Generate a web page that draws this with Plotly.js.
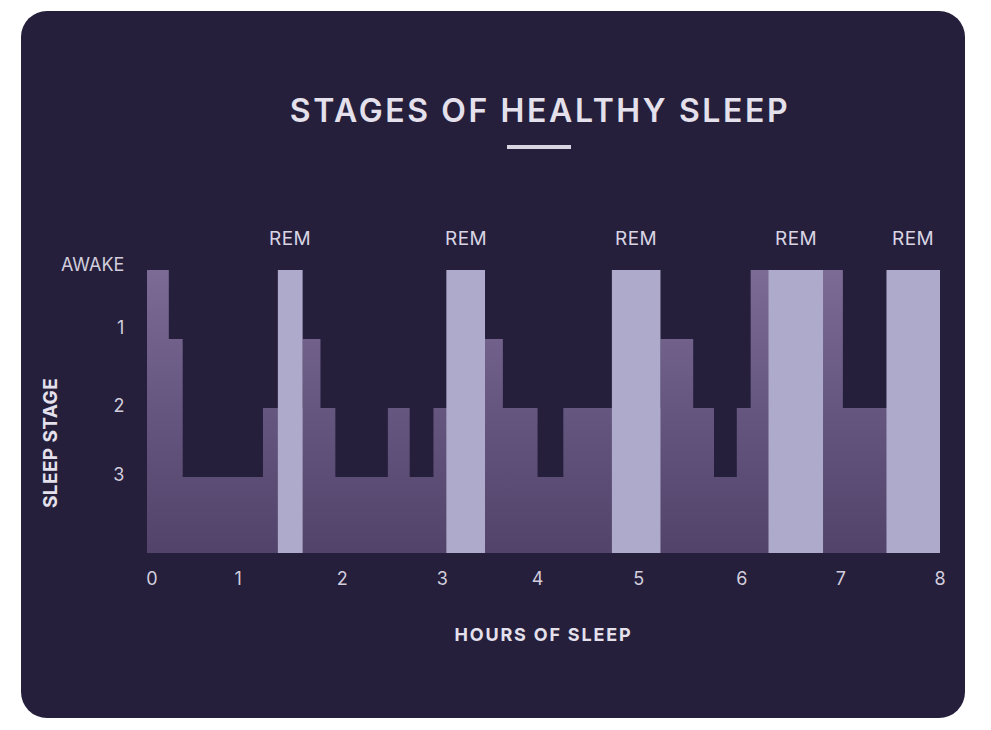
<!DOCTYPE html>
<html>
<head>
<meta charset="utf-8">
<script src="https://cdn.plot.ly/plotly-3.0.1.min.js"></script>
<style>
  html, body { margin: 0; padding: 0; background: #ffffff; }
  #wrap { position: relative; width: 991px; height: 730px; }
  #card { position: absolute; left: 21px; top: 11px; width: 944px; height: 707px;
          border-radius: 26px; background: #251f3c; }
  #chart { position: absolute; left: 0; top: 0; width: 991px; height: 730px; }
  .gtitle { letter-spacing: 2.6px; }
  .xtitle { letter-spacing: 1.8px; }
  .annotation-text { letter-spacing: 0.4px; }
</style>
</head>
<body>
<div id="wrap">
  <div id="card"></div>
  <div id="chart"></div>
</div>
<script>
// ---- data ----
// numeric level of each stage on the vertical axis (AWAKE at top)
const stageNames = ["AWAKE", "1", "2", "3"];
const stageLevels = [4, 3, 2, 1];

// non-REM hypnogram: hour at which each stage begins
const hypnoStart = [0, 0.22, 0.36, 1.17, 1.57, 1.75, 1.90, 2.43, 2.65, 2.89,
                    3.41, 3.59, 3.94, 4.20, 5.18, 5.51, 5.72, 5.95, 6.09, 7.02];
const hypnoStage = ["AWAKE", "1", "3", "2", "1", "2", "3", "2", "3", "2",
                    "1", "2", "3", "2", "1", "2", "3", "2", "AWAKE", "2"];
const sleepEnd = 8;

// REM periods (hours)
const remStart = [1.32, 3.02, 4.69, 6.27, 7.46];
const remEnd   = [1.57, 3.41, 5.18, 6.82, 8.0];
const remLabel = ["REM", "REM", "REM", "REM", "REM"];

// tick labels and where they sit
const xTickText = ["0", "1", "2", "3", "4", "5", "6", "7", "8"];
const xTickPos  = [0.05, 0.92, 1.97, 2.98, 3.94, 4.96, 6.0, 7.0, 8.0];
const yTickText = ["AWAKE", "1", "2", "3"];
const yTickPos  = [4.07, 3.17, 2.04, 1.03];

const yRange = [-0.1, 4.1];
const xRange = [0, 8];

// ---- build traces ----
const lvl = s => stageLevels[stageNames.indexOf(s)];
const baseLvl = yRange[0];
const areaX = [hypnoStart[0]].concat(hypnoStart, [sleepEnd, sleepEnd]);
const areaY = [baseLvl].concat(hypnoStage.map(lvl),
                [lvl(hypnoStage[hypnoStage.length - 1]), baseLvl]);

const area = {
  type: "scatter",
  x: areaX, y: areaY,
  mode: "lines",
  line: { shape: "hv", width: 0, color: "rgba(0,0,0,0)" },
  fill: "toself",
  fillcolor: "#6a5a84",
  fillgradient: {
    type: "vertical",
    start: baseLvl, stop: 4,
    colorscale: [[0, "#52436a"], [0.5, "#655680"], [1, "#7c6b94"]]
  },
  hoverinfo: "skip"
};

// REM periods as filled rectangles drawn above the hypnogram
const remTop = lvl("AWAKE");
const remX = [], remY = [];
remStart.forEach((s, i) => {
  remX.push(s, s, remEnd[i], remEnd[i], s, null);
  remY.push(baseLvl, remTop, remTop, baseLvl, baseLvl, null);
});
const rem = {
  type: "scatter",
  x: remX, y: remY,
  mode: "lines",
  line: { width: 0, color: "rgba(0,0,0,0)" },
  fill: "toself",
  fillcolor: "#aeaacb",
  connectgaps: false,
  hoverinfo: "skip"
};

const remCenter = remStart.map((s, i) => (s + remEnd[i]) / 2);

const textCol = "#e4e1ec";
const tickCol = "#d2cedc";
const font = "Inter, 'Noto Sans', sans-serif";

const annotations = remCenter.map((c, i) => ({
  x: c, y: remTop, xref: "x", yref: "y",
  text: remLabel[i], showarrow: false,
  yanchor: "middle", yshift: 31,
  font: { family: font, size: 19, color: "#d9d5e3" }
}));
annotations.push({
  xref: "paper", yref: "paper",
  x: (50 - 147) / 793, y: (553 - 443) / 290,
  text: "SLEEP STAGE", textangle: -90, showarrow: false,
  xanchor: "center", yanchor: "middle",
  font: { family: font, size: 19, weight: 700, color: textCol }
});

const layout = {
  width: 991, height: 730,
  margin: { l: 147, r: 51, t: 263, b: 177 },
  paper_bgcolor: "rgba(0,0,0,0)",
  plot_bgcolor: "rgba(0,0,0,0)",
  showlegend: false,
  title: {
    text: "STAGES OF HEALTHY SLEEP",
    x: 540 / 991, xref: "container", xanchor: "center",
    y: 1 - 111 / 730, yref: "container", yanchor: "middle",
    font: { family: font, size: 32, weight: 600, color: textCol }
  },
  xaxis: {
    range: xRange, fixedrange: true,
    tickmode: "array", tickvals: xTickPos, ticktext: xTickText,
    ticks: "outside", ticklen: 9, tickcolor: "rgba(0,0,0,0)",
    showgrid: false, zeroline: false, showline: false,
    tickfont: { family: font, size: 18, color: tickCol },
    title: {
      text: "HOURS OF SLEEP", standoff: 40,
      font: { family: font, size: 18, weight: 700, color: textCol }
    }
  },
  yaxis: {
    range: yRange, fixedrange: true,
    tickmode: "array", tickvals: yTickPos, ticktext: yTickText,
    ticks: "outside", ticklen: 18, tickcolor: "rgba(0,0,0,0)",
    showgrid: false, zeroline: false, showline: false,
    tickfont: { family: font, size: 18, color: tickCol }
  },
  shapes: [{
    type: "line", xref: "paper", yref: "paper",
    x0: (507 - 147) / 793, x1: (571 - 147) / 793,
    y0: (553 - 147) / 290, y1: (553 - 147) / 290,
    line: { color: "#d8d4e2", width: 4 }
  }],
  annotations: annotations
};

Plotly.newPlot("chart", [area, rem], layout, { displayModeBar: false, staticPlot: true });
</script>
</body>
</html>
